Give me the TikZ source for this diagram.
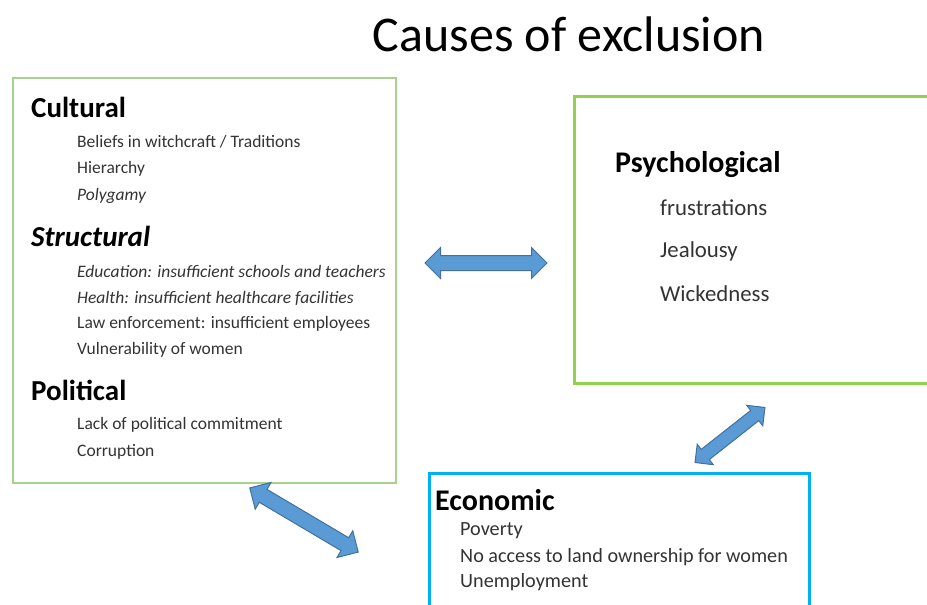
\documentclass[tikz,border=0pt]{standalone}
\usepackage{fontspec}
\setmainfont{Carlito}
\usepackage{tikz}
\usetikzlibrary{positioning}
\usetikzlibrary{shapes.arrows}

\definecolor{paleGreen}{HTML}{A9D18E}
\definecolor{limeGreen}{HTML}{92D050}
\definecolor{skyBlue}{HTML}{00B0F0}
\definecolor{arrowFill}{HTML}{5B9BD5}
\definecolor{arrowLine}{HTML}{41719C}

\tikzset{
	causebox/.style={draw, rectangle, anchor=north west, inner sep=0pt},
	cause/.style={anchor=west, inner sep=0pt, text=black, font=\fontsize{29}{34}\selectfont\bfseries},
	reason/.style={anchor=west, inner sep=0pt, text=black!80, font=\fontsize{17.5}{21}\selectfont},
	link/.style={double arrow, draw=arrowLine, fill=arrowFill, line width=1pt, inner xsep=0pt,
		inner ysep=7pt, double arrow head extend=8pt},
}

\begin{document}
\begin{tikzpicture}[x=1pt, y=-1pt]
	
	\useasboundingbox (0,0) rectangle (927,605);
	
	% Title
	\node[font=\fontsize{50}{58}\selectfont] (Title) at (569,34) {Causes of exclusion};
	
	% The three boxes, given by their top left corner
	\node[causebox, draw=paleGreen, line width=2pt, minimum width=383pt, minimum height=405pt] (SocialBox) at (12,77) {};
	\node[causebox, draw=limeGreen, line width=3pt, minimum width=400pt, minimum height=287pt] (PsychBox) at (573,95) {};
	\node[causebox, draw=skyBlue, line width=3pt, minimum width=380pt, minimum height=180pt] (EconBox) at (428,472) {};
	
	%%%%%%%%%%%%%%%%%%%%%%%%%%%%%%%%%%%%%%%%%%%%%%%%%%%%%%%%%%%%%%
	% Left box
	\node[cause] (Cultural) at (31,107) {Cultural};
	\node[reason] (Beliefs) at (77,142) {Beliefs in witchcraft / Traditions};
	\node[reason] (Hierarchy) at (77,169) {Hierarchy};
	\node[reason, font=\fontsize{17.5}{21}\selectfont\itshape] (Polygamy) at (77,196) {Polygamy};
	
	\node[cause, font=\fontsize{29}{34}\selectfont\bfseries\itshape] (Structural) at (31,236) {Structural};
	\node[reason, font=\fontsize{17.5}{21}\selectfont\itshape] (Education) at (77,271) {Education: insufficient schools and teachers};
	\node[reason, font=\fontsize{17.5}{21}\selectfont\itshape] (Health) at (77,298) {Health: insufficient healthcare facilities};
	\node[reason] (Law) at (77,324) {Law enforcement: insufficient employees};
	\node[reason] (Women) at (77,350) {Vulnerability of women};
	
	\node[cause] (Political) at (31,390) {Political};
	\node[reason] (Commitment) at (77,425) {Lack of political commitment};
	\node[reason] (Corruption) at (77,452) {Corruption};
	
	%%%%%%%%%%%%%%%%%%%%%%%%%%%%%%%%%%%%%%%%%%%%%%%%%%%%%%%%%%%%%%
	% Right box
	\node[cause, font=\fontsize{30}{35}\selectfont\bfseries] (Psychological) at (615,165) {Psychological};
	\node[reason, font=\fontsize{22.8}{27}\selectfont] (Frustrations) at (660,208) {frustrations};
	\node[reason, font=\fontsize{22.8}{27}\selectfont] (Jealousy) at (660,251) {Jealousy};
	\node[reason, font=\fontsize{22.8}{27}\selectfont] (Wickedness) at (660,294) {Wickedness};
	
	%%%%%%%%%%%%%%%%%%%%%%%%%%%%%%%%%%%%%%%%%%%%%%%%%%%%%%%%%%%%%%
	% Bottom box
	\node[cause, font=\fontsize{30}{35}\selectfont\bfseries] (Economic) at (435,500) {Economic};
	\node[reason, font=\fontsize{20.2}{24}\selectfont] (Poverty) at (460,531) {Poverty};
	\node[reason, font=\fontsize{20.2}{24}\selectfont] (Land) at (460,557) {No access to land ownership for women};
	\node[reason, font=\fontsize{20.2}{24}\selectfont] (Unemployment) at (460,582) {Unemployment};
	
	%%%%%%%%%%%%%%%%%%%%%%%%%%%%%%%%%%%%%%%%%%%%%%%%%%%%%%%%%%%%%%
	% Block arrows between the boxes: (centre), angle, length
	\node[link, minimum height=122pt] (LinkSocialPsych) at (486,263) {};
	\node[link, minimum height=126pt, rotate=-30.6] (LinkSocialEcon) at (304,520) {};
	\node[link, minimum height=89pt, inner ysep=6pt, double arrow head extend=6.5pt, rotate=38.2] (LinkPsychEcon) at (730,435) {};
	
\end{tikzpicture}
\end{document}
